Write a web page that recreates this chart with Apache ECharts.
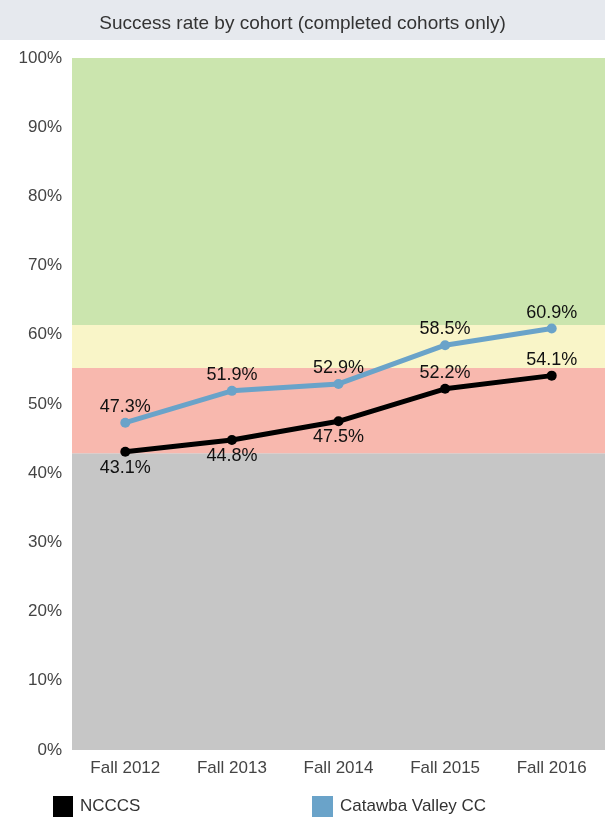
<!DOCTYPE html>
<html>
<head>
<meta charset="utf-8">
<script src="https://cdn.jsdelivr.net/npm/echarts@6/dist/echarts.min.js"></script>
<style>
  html, body { margin: 0; padding: 0; background: #fff; }
  #chart { width: 605px; height: 825px; }
</style>
</head>
<body>
<div id="chart"></div>
<script>
const cohorts = ['Fall 2012', 'Fall 2013', 'Fall 2014', 'Fall 2015', 'Fall 2016']
const ncccs = [43.1, 44.8, 47.5, 52.2, 54.1]
const catawba = [47.3, 51.9, 52.9, 58.5, 60.9]
// where the NCCCS labels sit relative to the point
const ncccsLabelPos = ['bottom', 'bottom', 'bottom', 'top', 'top']
// performance bands behind the lines
const bands = [
  { from: 0, to: 42.9, color: '#c6c6c6' },
  { from: 42.9, to: 55.2, color: '#f8b8ae' },
  { from: 55.2, to: 61.4, color: '#f9f5c8' },
  { from: 61.4, to: 100, color: '#cbe5ae' }
]

const font = 'Liberation Sans, Arial, sans-serif'
const chart = echarts.init(document.getElementById('chart'))

const labelStyle = {
  show: true,
  color: '#111',
  fontSize: 18,
  fontFamily: font,
  distance: 2,
  formatter: p => p.value.toFixed(1) + '%'
}

const options = {
  animation: false,
  graphic: [
    {
      type: 'rect',
      left: 0,
      top: 0,
      shape: { width: 605, height: 40 },
      style: { fill: '#e6e9ee' }
    }
  ],
  title: {
    text: 'Success rate by cohort (completed cohorts only)',
    left: 'center',
    top: 9,
    textStyle: { color: '#333', fontSize: 19, fontWeight: 'normal', fontFamily: font }
  },
  legend: [
    {
      data: ['NCCCS'],
      left: 53,
      top: 796,
      padding: 0,
      icon: 'rect',
      itemWidth: 20,
      itemHeight: 21,
      itemGap: 7,
      textStyle: { color: '#333', fontSize: 17, fontFamily: font, padding: [2, 0, 0, 2] }
    },
    {
      data: ['Catawba Valley CC'],
      left: 312,
      top: 796,
      padding: 0,
      icon: 'rect',
      itemWidth: 21,
      itemHeight: 21,
      textStyle: { color: '#333', fontSize: 17, fontFamily: font, padding: [2, 0, 0, 2] }
    }
  ],
  grid: {
    left: 72,
    right: 0,
    top: 58,
    bottom: 75
  },
  xAxis: {
    type: 'category',
    data: cohorts,
    boundaryGap: true,
    axisLine: { show: false },
    axisTick: { show: false },
    axisLabel: { color: '#444', fontSize: 17, fontFamily: font, margin: 10 }
  },
  yAxis: {
    type: 'value',
    min: 0,
    max: 100,
    interval: 10,
    splitLine: { show: false },
    axisLine: { show: false },
    axisTick: { show: false },
    axisLabel: {
      color: '#444',
      fontSize: 17,
      fontFamily: font,
      margin: 10,
      formatter: '{value}%'
    }
  },
  series: [
    {
      name: 'NCCCS',
      type: 'line',
      z: 3,
      data: ncccs.map((v, i) => ({ value: v, label: { position: ncccsLabelPos[i] } })),
      symbol: 'circle',
      symbolSize: 10,
      lineStyle: { color: '#000', width: 5 },
      itemStyle: { color: '#000' },
      label: labelStyle,
      markArea: {
        silent: true,
        z: 0,
        data: bands.map(b => [
          { yAxis: b.from, itemStyle: { color: b.color, opacity: 1 } },
          { yAxis: b.to }
        ])
      }
    },
    {
      name: 'Catawba Valley CC',
      type: 'line',
      z: 4,
      data: catawba,
      symbol: 'circle',
      symbolSize: 10,
      lineStyle: { color: '#6aa3c9', width: 5 },
      itemStyle: { color: '#6aa3c9' },
      label: Object.assign({}, labelStyle, { position: 'top' })
    }
  ]
}

chart.setOption(options)
</script>
</body>
</html>
